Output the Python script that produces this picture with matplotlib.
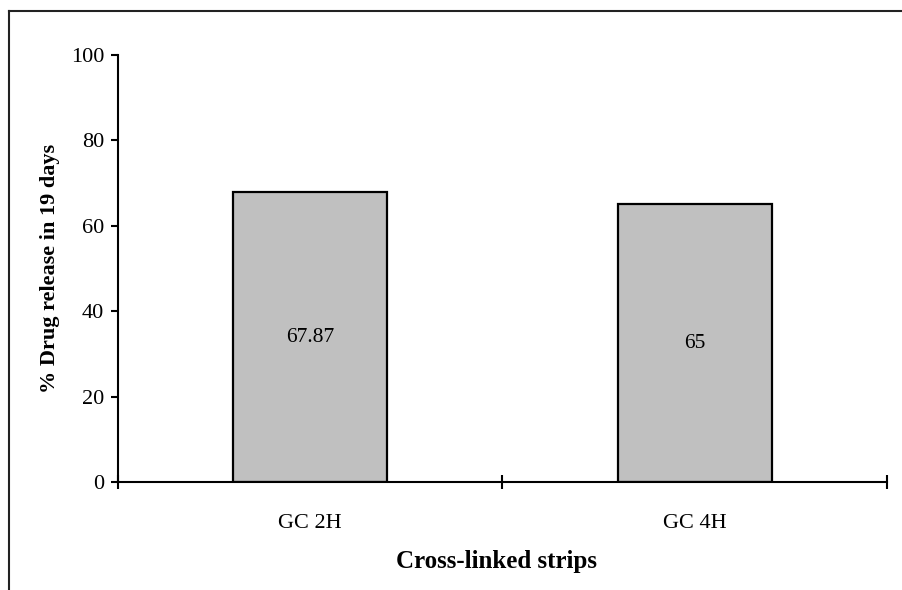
import matplotlib.pyplot as plt
from matplotlib.lines import Line2D

plt.rcParams['font.family'] = ['Liberation Serif', 'DejaVu Serif']

# data
strips = ['GC 2H', 'GC 4H']
release = [67.87, 65]
value_labels = ['67.87', '65']

fig = plt.figure(figsize=(9.03, 5.90), dpi=100)
ax = fig.add_axes([118 / 903, 108 / 590, 769 / 903, 427 / 590])

centers = [i + 0.5 for i in range(len(strips))]
ax.bar(centers, release, width=0.4, color='#c0c0c0', edgecolor='black', linewidth=1.6, zorder=2)

for c, v, txt in zip(centers, release, value_labels):
    ax.text(c, v / 2, txt, ha='center', va='center', fontsize=15.5)

ax.set_xlim(0, len(strips))
ax.set_ylim(0, 100)
ax.set_yticks([0, 20, 40, 60, 80, 100])
ax.set_xticks(range(len(strips) + 1))
ax.set_xticklabels([])
ax.set_xticks(centers, minor=True)
ax.set_xticklabels(strips, minor=True, fontsize=16)
ax.tick_params(axis='x', which='minor', length=0, pad=23)
ax.tick_params(axis='x', which='major', direction='inout', length=10, width=1.5)
ax.tick_params(axis='y', direction='out', length=5, width=1.5, labelsize=16, pad=5)

for s in ['top', 'right']:
    ax.spines[s].set_visible(False)
for s in ['left', 'bottom']:
    ax.spines[s].set_linewidth(1.5)

ax.set_ylabel('% Drug release in 19 days', fontsize=16, fontweight='bold', labelpad=8)
ax.set_xlabel('Cross-linked strips', fontsize=18, fontweight='bold')
ax.xaxis.set_label_coords((497 - 118) / 769, -68 / 427)

# outer frame (only top and left edges visible)
fig.add_artist(Line2D([8.5 / 903, 1], [1 - 11 / 590, 1 - 11 / 590], color='#222222', linewidth=1.5,
                      transform=fig.transFigure))
fig.add_artist(Line2D([8.5 / 903, 8.5 / 903], [0, 1 - 11 / 590], color='#222222', linewidth=1.5,
                      transform=fig.transFigure))

fig.savefig('out.png', dpi=100)
